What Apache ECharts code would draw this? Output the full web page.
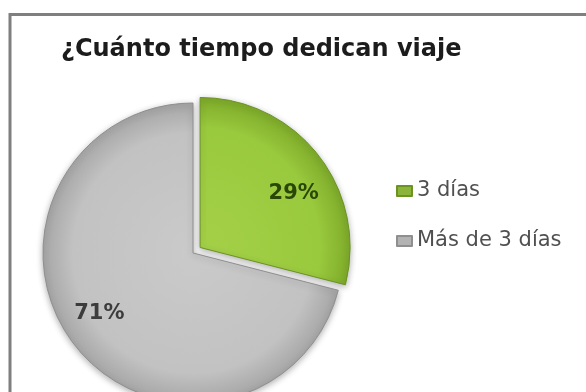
<!DOCTYPE html>
<html>
<head>
<meta charset="utf-8">
<script src="https://cdn.jsdelivr.net/npm/echarts@6/dist/echarts.min.js"></script>
<style>
  html, body { margin: 0; padding: 0; background: #ffffff; }
  #chart { width: 586px; height: 392px; }
</style>
</head>
<body>
<div id="chart"></div>
<script>
// Tiempo dedicado al viaje
const titleText = '¿Cuánto tiempo dedican viaje';
const categories = ['3 días', 'Más de 3 días'];
const shares = [29, 71];

const center = [193, 253];
const radius = 150;

function radial(stops) {
  return {
    type: 'radial', x: center[0], y: center[1], r: radius, global: true,
    colorStops: stops.map(s => ({ offset: s[0], color: s[1] }))
  };
}

const sliceStyles = [
  {
    color: radial([[0, '#a4d048'], [0.8, '#99c93d'], [1, '#7eab2a']]),
    borderColor: '#6b9322', text: '#2b4708', legend: '#8db43a',
    shift: [32, -6]
  },
  {
    color: radial([[0, '#cacaca'], [0.8, '#c2c2c2'], [1, '#a6a6a6']]),
    borderColor: '#8f8f8f', text: '#3c3c3c', legend: '#b3b3b3',
    shift: [-32, 13]
  }
];

const chart = echarts.init(document.getElementById('chart'), null, { renderer: 'canvas' });
chart.setOption({
  backgroundColor: '#ffffff',
  animation: false,
  title: {
    text: titleText,
    left: 61, top: 38, padding: 0,
    textStyle: { fontFamily: 'DejaVu Sans', fontWeight: 'bold', fontSize: 24, color: '#1c1c1c' }
  },
  legend: {
    orient: 'vertical',
    left: 396, top: 180, padding: 0,
    itemWidth: 15, itemHeight: 10, itemGap: 28,
    icon: 'rect',
    data: categories.map((c, i) => ({ name: c, itemStyle: { color: sliceStyles[i].legend } })),
    textStyle: { fontFamily: 'DejaVu Sans', fontSize: 21, lineHeight: 22, color: '#505050' },
    selectedMode: false
  },
  graphic: [{
    type: 'rect', silent: true, z: 100,
    shape: { x: 10, y: 14.5, width: 600, height: 420 },
    style: { fill: null, stroke: '#7f7f7f', lineWidth: 3 }
  }],
  series: [{
    type: 'pie',
    center: center,
    radius: radius,
    startAngle: 90,
    clockwise: true,
    selectedMode: 'single',
    selectedOffset: 9,
    avoidLabelOverlap: false,
    labelLine: { show: false },
    emphasis: { disabled: true },
    itemStyle: { shadowBlur: 6, shadowColor: 'rgba(0,0,0,0.3)', shadowOffsetY: 2 },
    labelLayout: function (params) {
      const s = sliceStyles[params.dataIndex].shift;
      return { dx: s[0], dy: s[1] };
    },
    data: categories.map((c, i) => ({
      name: c,
      value: shares[i],
      selected: i === 0,
      itemStyle: { color: sliceStyles[i].color, borderColor: sliceStyles[i].borderColor, borderWidth: 1 },
      label: {
        show: true,
        position: 'inside',
        formatter: '{d}%',
        fontFamily: 'DejaVu Sans', fontWeight: 'bold', fontSize: 21,
        color: sliceStyles[i].text
      }
    }))
  }]
});
</script>
</body>
</html>
